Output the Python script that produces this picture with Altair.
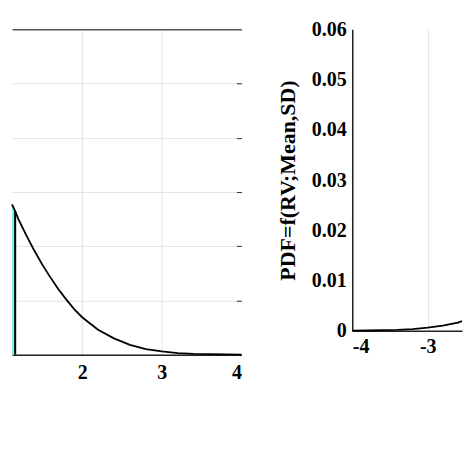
import altair as alt
import pandas as pd

# Left panel: right tail of the PDF
left_x = [1.12, 1.16, 1.2, 1.3, 1.4, 1.5, 1.6, 1.7, 1.8, 1.9, 2.0, 2.2, 2.4, 2.6, 2.8, 3.0, 3.2, 3.4, 3.6, 3.8, 4.0]
left_y = [0.0277, 0.0265, 0.0250, 0.0220, 0.0192, 0.0166, 0.0143, 0.0121, 0.0102, 0.0084, 0.0069,
          0.0046, 0.0030, 0.0018, 0.0010, 0.0006, 0.0003, 0.00016, 0.0001, 0.00004, 0.00002]
shade_x = [1.12, 1.16]
shade_y = [0.0277, 0.0265]

# Right panel: left tail of the PDF
right_x = [-4.0, -3.8, -3.6, -3.4, -3.2, -3.0, -2.8, -2.6, -2.545]
right_y = [0.00002, 0.00004, 0.0001, 0.00016, 0.0003, 0.0006, 0.0010, 0.0016, 0.0019]

y_ticks = [0, 0.01, 0.02, 0.03, 0.04, 0.05, 0.06]

FONT = "Liberation Serif"

left_df = pd.DataFrame({"x": left_x, "y": left_y})
shade_df = pd.DataFrame({"x": shade_x, "y": shade_y})
edge_df = pd.DataFrame({"x": [shade_x[-1]], "y0": [0.0], "y": [shade_y[-1]]})
right_df = pd.DataFrame({"x": right_x, "y": right_y})

lx = alt.Scale(domain=[1.12, 4.0], nice=False, zero=False)
ly = alt.Scale(domain=[0, 0.06], nice=False)

left_x_axis = alt.Axis(
    orient="bottom", values=[2, 3, 4], labelExpr="'' + datum.value", title=None,
    grid=True,
    gridColor={"condition": {"test": "datum.value === 4", "value": "transparent"}, "value": "#e3e3e3"},
    domainColor="#222", domainWidth=1.5, ticks=False, labelPadding=8,
    labelFont=FONT, labelFontSize=20, labelFontWeight="bold", labelColor="black")

grid_left = alt.Chart(left_df).mark_line(opacity=0).encode(
    x=alt.X("x:Q", scale=lx, axis=left_x_axis),
    y=alt.Y("y:Q", scale=ly, axis=alt.Axis(
        orient="left", values=y_ticks, labels=False, ticks=False, domain=False, title=None,
        minExtent=0, maxExtent=0,
        grid=True,
        gridColor={"condition": {"test": "datum.value >= 0.059", "value": "#555"}, "value": "#e3e3e3"},
        gridWidth={"condition": {"test": "datum.value >= 0.059", "value": 1.5}, "value": 1})),
)

ticks_right = alt.Chart(left_df).mark_line(opacity=0).encode(
    x=alt.X("x:Q", scale=lx, axis=left_x_axis),
    y=alt.Y("y:Q", scale=ly, axis=alt.Axis(
        orient="right", values=[0.01, 0.02, 0.03, 0.04, 0.05], labels=False, domain=False,
        title=None, grid=False, tickSize=5, offset=-5, tickColor="#333")),
)

shade = alt.Chart(shade_df).mark_area(color="#78F0DC", opacity=1).encode(
    x=alt.X("x:Q", scale=lx, axis=left_x_axis), y=alt.Y("y:Q", scale=ly, axis=None))

edge = alt.Chart(edge_df).mark_rule(color="black", strokeWidth=2).encode(
    x=alt.X("x:Q", scale=lx, axis=left_x_axis), y=alt.Y("y0:Q", scale=ly, axis=None), y2="y:Q")

curve_left = alt.Chart(left_df).mark_line(color="black", strokeWidth=1.8).encode(
    x=alt.X("x:Q", scale=lx, axis=left_x_axis), y=alt.Y("y:Q", scale=ly, axis=None))

left = alt.layer(grid_left, ticks_right, shade, edge, curve_left).resolve_axis(
    y="independent").properties(width=230, height=326)

rx = alt.Scale(domain=[-4.0, -2.545], nice=False, zero=False)
ry = alt.Scale(domain=[0, 0.06], nice=False)

right = alt.Chart(right_df).mark_line(color="black", strokeWidth=1.8).encode(
    x=alt.X("x:Q", scale=rx, axis=alt.Axis(
        orient="bottom", values=[-4, -3], labelExpr="'' + datum.value", title=None,
        grid=True,
        gridColor={"condition": {"test": "datum.value === -4", "value": "transparent"}, "value": "#e3e3e3"},
        domainColor="#222", domainWidth=1.5, ticks=False, labelPadding=6,
        labelFont=FONT, labelFontSize=20, labelFontWeight="bold", labelColor="black")),
    y=alt.Y("y:Q", scale=ry, axis=alt.Axis(
        orient="left", values=y_ticks, labelExpr="'' + datum.value", title="PDF=f(RV;Mean,SD)",
        grid=False, ticks=False, domainColor="#222", domainWidth=1.5, labelPadding=6,
        labelFont=FONT, labelFontSize=20, labelFontWeight="bold", labelColor="black",
        titleFont=FONT, titleFontSize=22, titleFontWeight="bold", titleColor="black",
        titlePadding=12)),
).properties(width=110, height=302)

chart = alt.hconcat(left, right, spacing=111, bounds="flush").properties(
    padding={"left": 0, "top": 11, "right": 0, "bottom": 5}
).configure_view(stroke=None)

chart.save("out.html", embed_options={"renderer": "svg", "actions": False})
